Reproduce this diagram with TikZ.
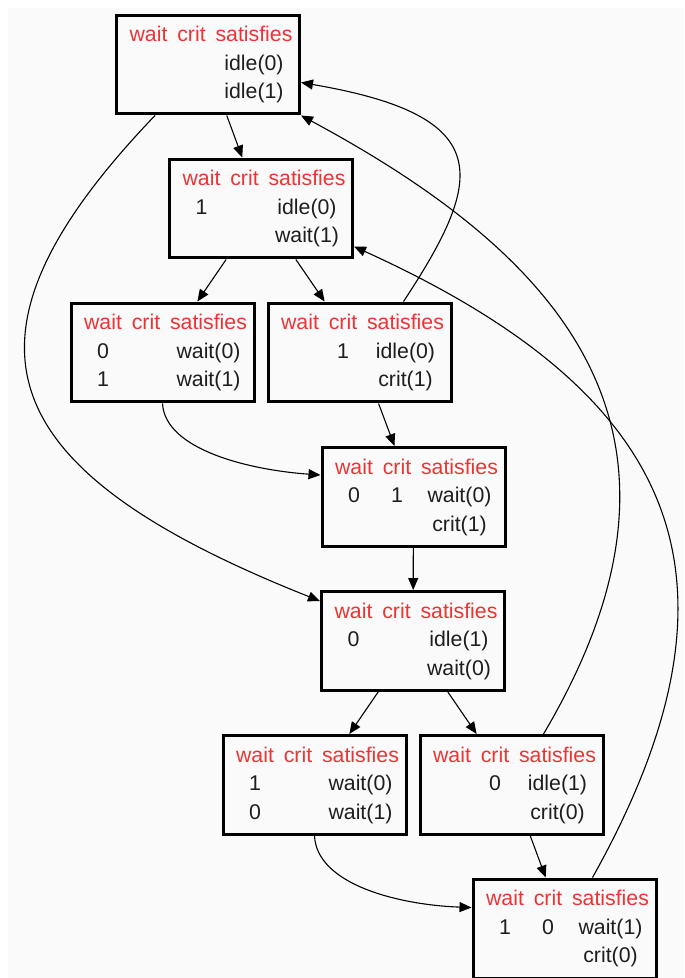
\documentclass[tikz,border=0pt]{standalone}
\usepackage{fontspec}
\setmainfont{Liberation Sans}
\usepackage{array}
\usepackage{xcolor}
\usetikzlibrary{arrows.meta,calc}

\newlength{\px}
\setlength{\px}{0.02cm}
\definecolor{hdrred}{RGB}{236,52,52}
\definecolor{bggray}{RGB}{250,250,250}
\definecolor{txtgray}{RGB}{30,30,30}

% one state: header, then two rows of wait / crit / satisfies
\newcommand{\sttab}[6]{%
  \fontsize{21.3\px}{28.5\px}\selectfont\color{txtgray}%
  \begin{tabular}{@{\hspace{12\px}}w{c}{40\px}@{\hspace{3\px}}w{c}{40\px}@{\hspace{4\px}}w{c}{77\px}@{\hspace{7\px}}}
    \color{hdrred}wait & \color{hdrred}crit & \color{hdrred}satisfies\\
    #1 & #2 & #3\\
    #4 & #5 & #6
  \end{tabular}}

\tikzset{
  state/.style={draw, line width=0.06cm, minimum width=3.66cm, minimum height=1.98cm, inner sep=0pt},
  trans/.style={-{Triangle[length=0.24cm,width=0.2cm]}, line width=0.022cm}
}

\begin{document}
\begin{tikzpicture}[x=0.02cm, y=-0.02cm]
        % Canvas
        \useasboundingbox (0,0) rectangle (684,978);
        \fill[bggray] (8,8) rectangle (684,978);

        % States
        \node[state] (s1) at (208,64.5) {\sttab{}{}{idle(0)}{}{}{idle(1)}};
        \node[state] (s2) at (261,208.5) {\sttab{1}{}{idle(0)}{}{}{wait(1)}};
        \node[state] (s3) at (162.5,352.5) {\sttab{0}{}{wait(0)}{1}{}{wait(1)}};
        \node[state] (s4) at (359.5,352.5) {\sttab{}{1}{idle(0)}{}{}{crit(1)}};
        \node[state] (s5) at (413.5,497) {\sttab{0}{1}{wait(0)}{}{}{crit(1)}};
        \node[state] (s6) at (413,641) {\sttab{0}{}{idle(1)}{}{}{wait(0)}};
        \node[state] (s7) at (314.5,785) {\sttab{1}{}{wait(0)}{0}{}{wait(1)}};
        \node[state] (s8) at (511.5,785) {\sttab{}{0}{idle(1)}{}{}{crit(0)}};
        \node[state] (s9) at (564.5,928.5) {\sttab{1}{0}{wait(1)}{}{}{crit(0)}};

        % Straight transitions
        \draw[trans] (s1) -- (s2);
        \draw[trans] (s2) -- (s3);
        \draw[trans] (s2) -- (s4);
        \draw[trans] (s4) -- (s5);
        \draw[trans] (s5) -- (s6);
        \draw[trans] (s6) -- (s7);
        \draw[trans] (s6) -- (s8);
        \draw[trans] (s8) -- (s9);

        % Curved transitions on the left
        \draw[trans] ($(s1.south west)+(40,0)$) .. controls (-60,340) and (-10,470) .. ($(s6.north west)+(0,11)$);
        \draw[trans] (s3.south) .. controls (165,450) and (250,470) .. ($(s5.north west)+(0,29)$);
        \draw[trans] (s7.south) .. controls (317,885) and (400,905) .. ($(s9.north west)+(0,30)$);

        % Curved transitions back up on the right
        \draw[trans] ($(s4.north)+(44,0)$) .. controls (485,178) and (497,116) .. ($(s1.east)+(0,18)$);
        \draw[trans] ($(s8.north)+(32,0)$) .. controls (721,434) and (566,258) .. (s1.south east);
        \draw[trans] ($(s9.north)+(28,0)$) .. controls (763,573) and (674,392) .. ($(s2.south east)+(0,-13)$);
\end{tikzpicture}
\end{document}
